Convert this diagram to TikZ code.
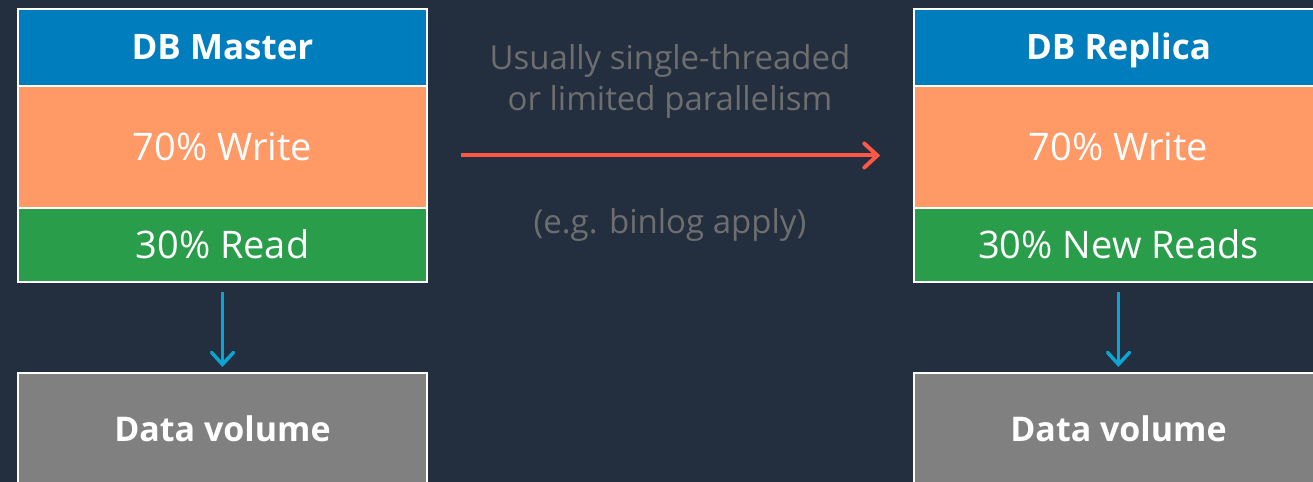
\documentclass[tikz,border=0pt]{standalone}
\usepackage{fontspec}
\setmainfont{Open Sans}
\usetikzlibrary{arrows.meta}
\definecolor{bgdark}{HTML}{232F3E}
\definecolor{hdrblue}{HTML}{007DBC}
\definecolor{wrorange}{HTML}{FF9966}
\definecolor{rdgreen}{HTML}{2A9D4A}
\definecolor{volgray}{HTML}{808080}
\definecolor{notegray}{HTML}{6E6E6E}
\definecolor{replred}{HTML}{FF5746}
\definecolor{ioblue}{HTML}{0AA5D2}
\tikzset{
  band/.style={draw=white, line width=1.5bp, minimum width=409bp, inner sep=0pt, text=white, text depth=0pt},
  hdr/.style={band, fill=hdrblue, minimum height=77bp, text height=25bp, font=\fontsize{35bp}{42bp}\selectfont\bfseries},
  wr/.style={band, fill=wrorange, minimum height=122bp, text height=27bp, font=\fontsize{38bp}{44bp}\selectfont},
  rd/.style={band, fill=rdgreen, minimum height=74bp, text height=27bp, font=\fontsize{38bp}{44bp}\selectfont},
  vol/.style={band, fill=volgray, minimum height=113bp, text height=25bp, font=\fontsize{34bp}{42bp}\selectfont\bfseries},
  note/.style={text=notegray, align=center, font=\fontsize{33bp}{41bp}\selectfont},
  ioarrow/.style={draw=ioblue, line width=3.5bp, -{Straight Barb[length=12bp, width=22bp, line cap=round]}},
  replarrow/.style={draw=replred, line width=4bp, -{Straight Barb[length=13bp, width=24bp, line cap=round]}}
}
\begin{document}
\begin{tikzpicture}[x=1bp, y=-1bp]
  \fill[bgdark] (0,0) rectangle (1313,482);
  \useasboundingbox (0,0) rectangle (1313,482);
  \clip (0,0) rectangle (1313,482);

  % master column
  \node[hdr] (mh) at (222.5,47.5) {DB Master};
  \node[wr]  (mw) at (222.5,147.5) {70\% Write};
  \node[rd]  (mr) at (222.5,245) {30\% Read};
  \node[vol, anchor=north] (mv) at (222.5,372) {Data volume};

  % replica column
  \node[hdr] (rh) at (1118.5,47.5) {DB Replica};
  \node[wr]  (rw) at (1118.5,147.5) {70\% Write};
  \node[rd]  (rr) at (1118.5,245) {30\% New Reads};
  \node[vol, anchor=north] (rv) at (1118.5,372) {Data volume};

  % storage I/O
  \draw[ioarrow, shorten <=9bp, shorten >=5bp] (mr.south) -- (mv.north);
  \draw[ioarrow, shorten <=9bp, shorten >=5bp] (rr.south) -- (rv.north);

  % replication
  \draw[replarrow] ([xshift=33bp, yshift=-8bp]mw.east) -- ([xshift=-33bp, yshift=-8bp]rw.west);
  \node[note] (n1) at (670,81) {Usually single-threaded\\or limited parallelism};
  \node[note] (n2) at (670,225) {(e.g. binlog apply)};
\end{tikzpicture}
\end{document}
